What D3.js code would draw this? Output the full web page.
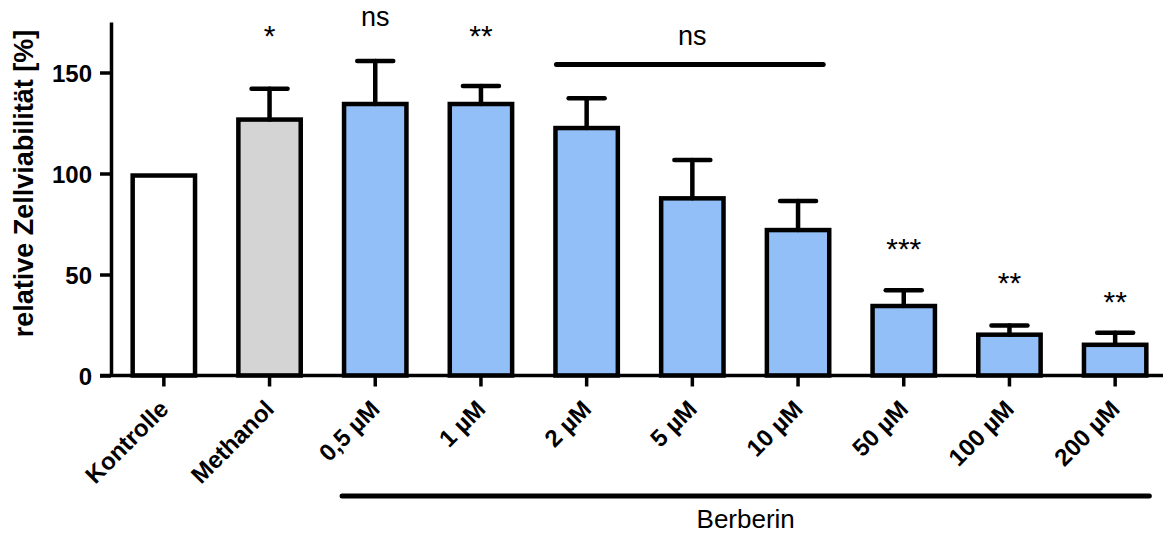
<!DOCTYPE html>
<html>
<head>
<meta charset="utf-8">
<script src="https://cdn.jsdelivr.net/npm/d3@7"></script>
<style>
  html, body { margin: 0; padding: 0; background: #fff; }
  svg { display: block; }
  text { font-family: "Liberation Sans", Arial, sans-serif; fill: #000; }
</style>
</head>
<body>
<svg id="chart" width="1163" height="535"></svg>
<script>
// Treatment groups and mean relative viability with upper SD
const categories = ["Kontrolle", "Methanol", "0,5 µM", "1 µM", "2 µM", "5 µM", "10 µM", "50 µM", "100 µM", "200 µM"];
const means      = [99, 126.7, 134.4, 134.4, 122.5, 87.7, 72, 34.4, 20.2, 15.2];
const errors     = [0, 15.3, 21.3, 8.9, 14.7, 19, 14.4, 7.8, 4.5, 6];
const groups     = ["control", "solvent", "berberin", "berberin", "berberin", "berberin", "berberin", "berberin", "berberin", "berberin"];

// Significance marks above single bars (value = vertical centre of the text)
const sigText  = ["", "*", "ns", "**", "", "", "", "***", "**", "**"];
const sigLevel = [0, 170, 176.7, 170, 0, 0, 0, 64.6, 47.8, 38.5];

// Bracket spanning 2 µM to 10 µM
const bracketFrom = "2 µM", bracketTo = "10 µM", bracketLevel = 154, bracketText = "ns", bracketTextLevel = 167.3;

// Group bar under the Berberin concentrations
const berberinFrom = "0,5 µM", berberinTo = "200 µM", berberinLabel = "Berberin";

const yTicks = [0, 50, 100, 150];
const yTitle = "relative Zellviabilität [%]";

const fills = { control: "#ffffff", solvent: "#d4d4d4", berberin: "#93bff8" };

const svg = d3.select("#chart");

const x = d3.scaleBand()
  .domain(categories)
  .range([111, 1168])
  .paddingInner(0.41)
  .paddingOuter(0.205);

const y = d3.scaleLinear()
  .domain([0, 175])
  .range([375.5, 22]);

const data = categories.map((c, i) => ({ c, m: means[i], e: errors[i], g: groups[i], s: sigText[i], sl: sigLevel[i] }));

// Bars
svg.append("g").selectAll("rect")
  .data(data)
  .join("rect")
  .attr("x", d => x(d.c))
  .attr("y", d => y(d.m))
  .attr("width", x.bandwidth())
  .attr("height", d => y(0) - y(d.m))
  .attr("fill", d => fills[d.g])
  .attr("stroke", "#000")
  .attr("stroke-width", 4.5);

// Upper error bars
const eb = svg.append("g")
  .attr("stroke", "#000")
  .attr("stroke-width", 4.5)
  .attr("stroke-linecap", "round");
data.filter(d => d.e > 0).forEach(d => {
  const cx = x(d.c) + x.bandwidth() / 2;
  eb.append("line")
    .attr("x1", cx).attr("x2", cx)
    .attr("y1", y(d.m)).attr("y2", y(d.m + d.e));
  eb.append("line")
    .attr("x1", cx - 18).attr("x2", cx + 18)
    .attr("y1", y(d.m + d.e)).attr("y2", y(d.m + d.e));
});

// Y axis
const yAxis = svg.append("g")
  .attr("transform", "translate(111,0)")
  .call(d3.axisLeft(y).tickValues(yTicks).tickSize(11).tickSizeOuter(0).tickPadding(8));
yAxis.select(".domain").attr("stroke-width", 3.5);
yAxis.selectAll(".tick line").attr("stroke-width", 3.5);
yAxis.selectAll(".tick text")
  .attr("font-family", "Liberation Sans, Arial, sans-serif")
  .attr("font-weight", "bold")
  .attr("font-size", 24)
  .attr("dy", "0.36em");

// X axis
const xAxis = svg.append("g")
  .attr("transform", `translate(0,${y(0)})`)
  .call(d3.axisBottom(x).tickSize(11).tickSizeOuter(0));
xAxis.select(".domain").remove();
xAxis.append("line")
  .attr("x1", 100).attr("x2", 1163)
  .attr("stroke", "#000").attr("stroke-width", 3.5);
xAxis.selectAll(".tick line").attr("stroke-width", 3.5);
xAxis.selectAll(".tick text")
  .attr("font-family", "Liberation Sans, Arial, sans-serif")
  .attr("font-weight", "bold")
  .attr("font-size", 24)
  .attr("text-anchor", "end")
  .attr("y", 0)
  .attr("dy", 0)
  .attr("transform", "translate(6,35) rotate(-45)");

// Y axis title
svg.append("text")
  .attr("transform", `translate(33,${(22 + 345) / 2}) rotate(-90)`)
  .attr("text-anchor", "middle")
  .attr("font-weight", "bold")
  .attr("font-size", 27)
  .text(yTitle);

// Significance marks
svg.append("g").selectAll("text")
  .data(data.filter(d => d.s))
  .join("text")
  .attr("x", d => x(d.c) + x.bandwidth() / 2)
  .attr("y", d => y(d.sl))
  .attr("dy", d => d.s === "ns" ? "0.27em" : "0.47em")
  .attr("text-anchor", "middle")
  .attr("font-size", d => d.s === "ns" ? 27 : 30)
  .text(d => d.s);

// Bracket over 2–10 µM
svg.append("line")
  .attr("x1", x(bracketFrom) + 1)
  .attr("x2", x(bracketTo) + x.bandwidth() - 6)
  .attr("y1", y(bracketLevel)).attr("y2", y(bracketLevel))
  .attr("stroke", "#000").attr("stroke-width", 5).attr("stroke-linecap", "round");
svg.append("text")
  .attr("x", (x(bracketFrom) + x(bracketTo) + x.bandwidth()) / 2)
  .attr("y", y(bracketTextLevel))
  .attr("dy", "0.27em")
  .attr("text-anchor", "middle")
  .attr("font-size", 27)
  .text(bracketText);

// Berberin group line and label
const bx1 = x(berberinFrom) - 2, bx2 = x(berberinTo) + x.bandwidth() + 3;
svg.append("line")
  .attr("x1", bx1).attr("x2", bx2)
  .attr("y1", 496).attr("y2", 496)
  .attr("stroke", "#000").attr("stroke-width", 5).attr("stroke-linecap", "round");
svg.append("text")
  .attr("x", (bx1 + bx2) / 2)
  .attr("y", 528)
  .attr("text-anchor", "middle")
  .attr("font-size", 26)
  .text(berberinLabel);
</script>
</body>
</html>
